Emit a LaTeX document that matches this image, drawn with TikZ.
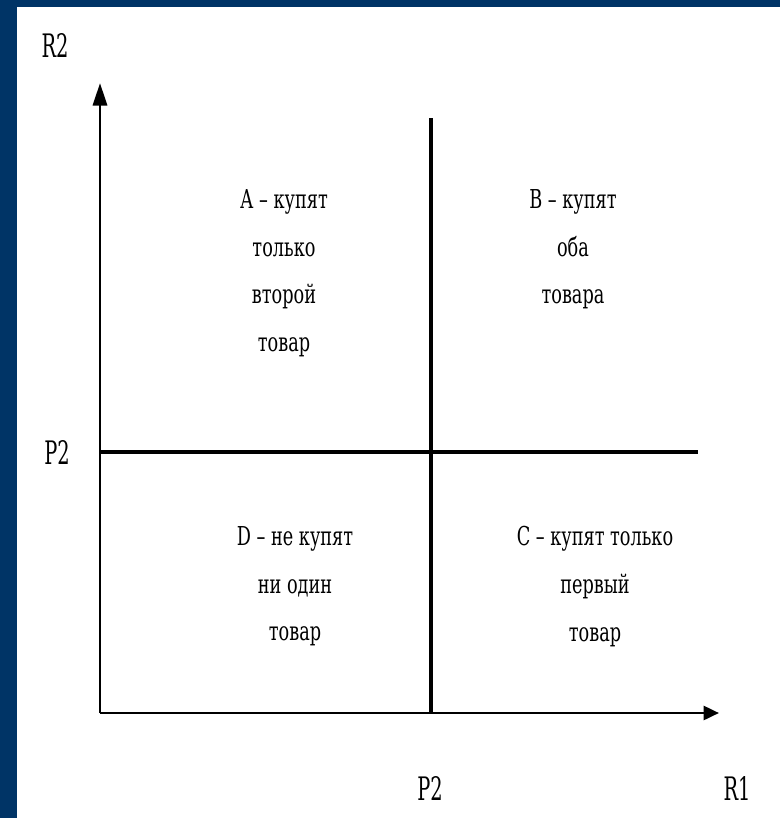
\documentclass[tikz,border=0pt]{standalone}
\usepackage{fontspec}
\newfontfamily\chartfont[FakeStretch=0.68]{DejaVu Serif}
\newfontfamily\axisfont[FakeStretch=0.6]{DejaVu Serif}
\usetikzlibrary{arrows.meta}
\definecolor{frameblue}{HTML}{003466}

\begin{document}
\begin{tikzpicture}[x=0.025cm,y=-0.025cm,line join=miter,every node/.style={inner sep=0pt},
  zone/.style={align=center,anchor=north,font=\chartfont\fontsize{18.5}{34}\selectfont},
  axislabel/.style={font=\axisfont\fontsize{23}{26}\selectfont}]
  \def\ox{100}
  \def\oy{713}
  \def\px{431}
  \def\py{452}
  % frame
  \fill[frameblue] (0,0) rectangle (780,818);
  \fill[white] (17,7) rectangle (780,818);
  \useasboundingbox (0,0) rectangle (780,818);
  % axes
  \coordinate (O) at (\ox,\oy);
  \coordinate (ytip) at (\ox,83);
  \coordinate (xtip) at (719,\oy);
  \draw[-{Triangle[length=16pt,width=10pt]},line width=2pt] (O) -- (ytip);
  \draw[-{Triangle[length=11pt,width=10pt]},line width=2pt] (O) -- (xtip);
  % thresholds
  \coordinate (vtop) at (\px,118);
  \coordinate (vbot) at (\px,\oy);
  \coordinate (hleft) at (\ox,\py);
  \coordinate (hright) at (698,\py);
  \draw[line width=2.4pt] (vbot) -- (vtop);
  \draw[line width=3.4pt] (hleft) -- (hright);
  % labels
  \node[axislabel] (lR2) at (55,45) {R2};
  \node[axislabel] (lP2y) at (57,452) {P2};
  \node[axislabel] (lP2x) at (430,788) {P2};
  \node[axislabel] (lR1) at (737,788) {R1};
  % zones
  \node[zone] (zA) at (284,189) {А – купят\\только\\второй\\товар};
  \node[zone] (zB) at (573,189) {В – купят\\оба\\товара};
  \node[zone] (zD) at (295,526) {D – не купят\\ни один\\товар};
  \node[zone] (zC) at (595,526) {С – купят только\\первый\\товар};
\end{tikzpicture}
\end{document}
